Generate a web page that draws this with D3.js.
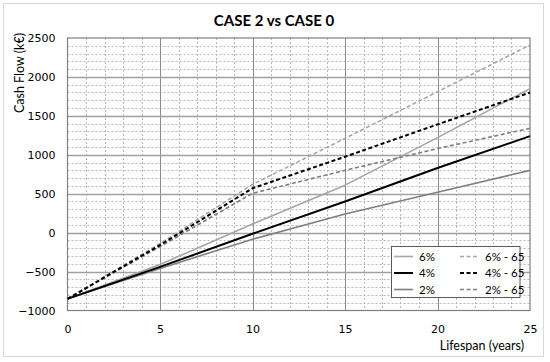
<!DOCTYPE html>
<html>
<head>
<meta charset="utf-8">
<script src="https://cdn.jsdelivr.net/npm/d3@7"></script>
<style>
  html, body { margin: 0; padding: 0; background: #fff; }
  svg { display: block; }
</style>
</head>
<body>
<svg id="chart" width="550" height="362"></svg>
<script>
const title = "CASE 2 vs CASE 0";
const yTitle = "Cash Flow (k€)";
const xTitle = "Lifespan (years)";
const years = [0, 5, 10, 15, 20, 25];
const xTicks = [0, 5, 10, 15, 20, 25];
const yTicks = [-1000, -500, 0, 500, 1000, 1500, 2000, 2500];
const seriesNames = ["6%", "4%", "2%", "6% - 65", "4% - 65", "2% - 65"];
const s6 = [-850, -410, 110, 610, 1220, 1850];
const s4 = [-850, -440, -15, 400, 830, 1240];
const s2 = [-850, -460, -85, 240, 520, 800];
const s6_65 = [-850, -140, 620, 1210, 1810, 2410];
const s4_65 = [-850, -160, 570, 975, 1390, 1800];
const s2_65 = [-850, -180, 505, 800, 1080, 1340];

const seriesValues = [s6, s4, s2, s6_65, s4_65, s2_65];
const styles = [
  {color: "#a6a6a6", width: 1.6, dash: null},
  {color: "#000000", width: 2, dash: null},
  {color: "#7f7f7f", width: 1.6, dash: null},
  {color: "#a6a6a6", width: 1.6, dash: "4,2.5"},
  {color: "#000000", width: 2, dash: "4,2.5"},
  {color: "#7f7f7f", width: 1.6, dash: "4,2.5"}
];

const svg = d3.select("#chart");
const m = {left: 67.5, right: 530, top: 38, bottom: 310.5};

svg.append("rect").attr("x", 3.5).attr("y", 3.5).attr("width", 540).attr("height", 353)
  .attr("fill", "#fff").attr("stroke", "#d9d9d9").attr("stroke-width", 1);

const x = d3.scaleLinear().domain([0, 25]).range([m.left, m.right]);
const y = d3.scaleLinear().domain([-1000, 2500]).range([m.bottom, m.top]);

const g = svg.append("g");

// minor grid
const minorX = d3.range(1, 25).filter(v => v % 5 !== 0);
const minorY = d3.range(-900, 2500, 100).filter(v => v % 500 !== 0);
g.append("g").selectAll("line").data(minorX).join("line")
  .attr("x1", d => Math.round(x(d)) + 0.5).attr("x2", d => Math.round(x(d)) + 0.5)
  .attr("y1", m.top).attr("y2", m.bottom)
  .attr("stroke", "#b8b8b8").attr("stroke-width", 1).attr("stroke-dasharray", "2,2");
g.append("g").selectAll("line").data(minorY).join("line")
  .attr("y1", d => Math.round(y(d)) + 0.5).attr("y2", d => Math.round(y(d)) + 0.5)
  .attr("x1", m.left).attr("x2", m.right)
  .attr("stroke", "#b8b8b8").attr("stroke-width", 1).attr("stroke-dasharray", "2,2");

// major grid
g.append("g").selectAll("line").data(xTicks.slice(1, -1)).join("line")
  .attr("x1", d => Math.round(x(d)) + 0.5).attr("x2", d => Math.round(x(d)) + 0.5)
  .attr("y1", m.top).attr("y2", m.bottom)
  .attr("stroke", "#8c8c8c").attr("stroke-width", 1);
g.append("g").selectAll("line").data(yTicks.slice(1, -1)).join("line")
  .attr("y1", d => Math.round(y(d)) + 0.5).attr("y2", d => Math.round(y(d)) + 0.5)
  .attr("x1", m.left).attr("x2", m.right)
  .attr("stroke", "#a0a0a0").attr("stroke-width", 1.3);

// plot border
g.append("rect").attr("x", m.left).attr("y", m.top)
  .attr("width", m.right - m.left).attr("height", m.bottom - m.top)
  .attr("fill", "none").attr("stroke", "#7f7f7f").attr("stroke-width", 1.2);

// axes (labels only)
const xAxis = d3.axisBottom(x).tickValues(xTicks).tickSize(0).tickPadding(0).tickFormat(d3.format("d"));
const yAxis = d3.axisLeft(y).tickValues(yTicks).tickSize(0).tickPadding(0).tickFormat(d3.format("d"));
const xa = svg.append("g").attr("transform", `translate(0,${m.bottom})`).call(xAxis);
const ya = svg.append("g").attr("transform", `translate(${m.left},0)`).call(yAxis);
[xa, ya].forEach(a => {
  a.select(".domain").remove();
  a.selectAll("text").attr("font-family", "DejaVu Sans, Verdana, sans-serif")
    .attr("font-size", 11).attr("fill", "#000");
});
xa.selectAll("text").attr("dy", null).attr("y", 22);
ya.selectAll("text").attr("dy", "0.35em").attr("x", -12);

// lines
const line = d3.line().x((d, i) => x(years[i])).y(d => y(d));
const order = [2, 0, 1, 5, 3, 4];
order.forEach(i => {
  svg.append("path").datum(seriesValues[i])
    .attr("d", line).attr("fill", "none")
    .attr("stroke", styles[i].color).attr("stroke-width", styles[i].width)
    .attr("stroke-dasharray", styles[i].dash)
    .attr("stroke-linejoin", "round");
});

// title
svg.append("text").attr("x", 274).attr("y", 26).attr("text-anchor", "middle")
  .attr("font-family", "Lato, 'Open Sans', sans-serif").attr("font-weight", "bold")
  .attr("font-size", 15).text(title);

// axis titles
svg.append("text").attr("transform", "translate(24,33) rotate(-90)")
  .attr("text-anchor", "end")
  .attr("font-family", "Lato, 'Open Sans', sans-serif").attr("font-size", 12.5)
  .text(yTitle);
svg.append("text").attr("x", 524).attr("y", 350).attr("text-anchor", "end")
  .attr("font-family", "Lato, 'Open Sans', sans-serif").attr("font-size", 12.5)
  .text(xTitle);

// legend
const lg = svg.append("g");
lg.append("rect").attr("x", 391.5).attr("y", 246.5).attr("width", 128.5).attr("height", 51)
  .attr("fill", "#fff").attr("stroke", "#595959").attr("stroke-width", 1);
const rowsY = [256.5, 273, 289.5];
seriesNames.forEach((name, i) => {
  const col = Math.floor(i / 3), row = i % 3;
  const lx = col === 0 ? 394 : 460;
  const ly = rowsY[row];
  lg.append("line").attr("x1", lx).attr("x2", lx + 19).attr("y1", ly).attr("y2", ly)
    .attr("stroke", styles[i].color).attr("stroke-width", styles[i].width)
    .attr("stroke-dasharray", styles[i].dash);
  lg.append("text").attr("x", lx + 25).attr("y", ly).attr("dy", "0.35em")
    .attr("font-family", "Lato, 'Open Sans', sans-serif").attr("font-size", 11.5)
    .text(name);
});
</script>
</body>
</html>
